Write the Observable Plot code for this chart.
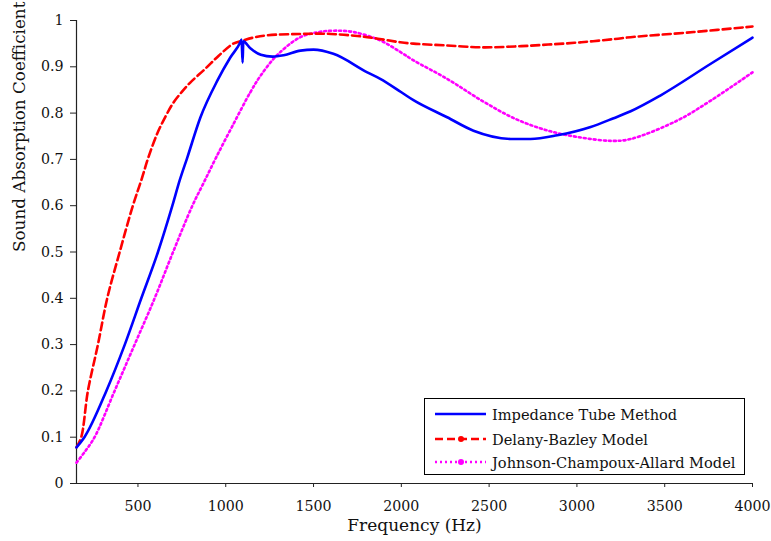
<!DOCTYPE html>
<html><head><meta charset="utf-8">
<script src="https://cdn.jsdelivr.net/npm/d3@7"></script>
<script src="https://cdn.jsdelivr.net/npm/@observablehq/plot@0.6"></script>
<style>
body{margin:0;background:#fff}
#chart{position:relative;width:771px;height:541px}
.legend{position:absolute;left:424px;top:398px;width:319px;height:75px;border:1.5px solid #000;background:#fff;font-family:"DejaVu Serif",serif;font-size:14.6px;color:#111}
.legend .row{position:absolute;left:0;height:20px;display:flex;align-items:center}
.legend svg{margin-left:10px;margin-right:6px}
</style>
</head><body><div id="chart"></div>
<script>
const xTicks = [500,1000,1500,2000,2500,3000,3500,4000];
const yTicks = [0,0.1,0.2,0.3,0.4,0.5,0.6,0.7,0.8,0.9,1];
const seriesNames = ["Impedance Tube Method","Delany-Bazley Model","Johnson-Champoux-Allard Model"];
const xLabel = "Frequency (Hz)";
const yLabel = "Sound Absorption Coefficient";

const impedanceFreq  = [150,195,320,425,519,614,696,738,781,855,952,1026,1083,1090,1096,1100,1140,1200,1266,1330,1426,1500,1613,1806,1880,2000,2069,2261,2411,2640,2736,2888,3078,3209,3306,3475,3760,4000];
const impedanceAlpha = [0.078,0.1,0.2,0.3,0.4,0.5,0.6,0.655,0.704,0.79,0.87,0.92,0.953,0.959,0.909,0.955,0.94,0.926,0.922,0.925,0.935,0.937,0.928,0.888,0.874,0.845,0.828,0.791,0.762,0.744,0.744,0.752,0.77,0.789,0.804,0.838,0.906,0.963];

const delanyFreq  = [150,177,215,272,325,396,471,519,560,610,656,701,750,798,884,960,1043,1100,1157,1236,1425,1600,1806,1994,2069,2261,2458,2647,2836,3026,3216,3306,3665,4000];
const delanyAlpha = [0.078,0.1,0.2,0.3,0.4,0.5,0.6,0.655,0.705,0.756,0.792,0.822,0.846,0.866,0.896,0.924,0.95,0.957,0.963,0.968,0.971,0.971,0.964,0.953,0.95,0.946,0.942,0.944,0.948,0.953,0.96,0.964,0.975,0.987];

const jcaFreq  = [150,200,253,367,481,595,700,810,875,945,1035,1140,1197,1292,1425,1530,1615,1729,1880,1994,2069,2261,2458,2647,2836,3026,3200,3306,3572,3762,4000];
const jcaAlpha = [0.045,0.07,0.1,0.2,0.3,0.4,0.5,0.6,0.65,0.704,0.77,0.845,0.88,0.925,0.964,0.975,0.978,0.975,0.957,0.932,0.914,0.874,0.827,0.788,0.762,0.747,0.74,0.744,0.784,0.827,0.888];

const toRows = (fs, as) => fs.map((f, i) => ({f, a: as[i]}));
const impedance = toRows(impedanceFreq, impedanceAlpha);
const delany = toRows(delanyFreq, delanyAlpha);
const jca = toRows(jcaFreq, jcaAlpha);

const serif = '"DejaVu Serif", serif';
const fmtY = d => d === 0 ? "0" : d === 1 ? "1" : d.toFixed(1);

const chart = Plot.plot({
  width: 771, height: 541,
  marginLeft: 76, marginRight: 19, marginTop: 20, marginBottom: 58,
  x: {domain: [150, 4000]},
  y: {domain: [0, 1]},
  style: {fontFamily: serif, fontSize: "14.2px", color: "#111", background: "#fff"},
  marks: [
    Plot.axisY({ticks: yTicks, tickSize: 6, tickPadding: 7, tickFormat: fmtY, label: null, stroke: "#222"}),
    Plot.axisX({ticks: xTicks, tickSize: 4, tickPadding: 13, tickFormat: d => String(d), label: null, stroke: "#222"}),
    Plot.ruleX([150], {stroke: "#222", strokeWidth: 1.2}),
    Plot.ruleY([0], {stroke: "#222", strokeWidth: 1.2}),
    Plot.line(jca, {x: "f", y: "a", stroke: "#ff00ff", strokeWidth: 2.6, strokeDasharray: "2,3", curve: "catmull-rom"}),
    Plot.line(delany, {x: "f", y: "a", stroke: "#ff0000", strokeWidth: 2.6, strokeDasharray: "8,4", curve: "catmull-rom"}),
    Plot.line(impedance, {x: "f", y: "a", stroke: "#0000ff", strokeWidth: 2.6, curve: "monotone-x"}),
    Plot.text([yLabel], {text: d => d, frameAnchor: "left", rotate: -90, dx: -57, fontSize: 16.8, fill: "#111"}),
    Plot.text([xLabel], {text: d => d, frameAnchor: "bottom", dy: 47, fontSize: 17, fill: "#111"})
  ]
});
const root = document.getElementById("chart");
root.appendChild(chart);

const styles = [
  {color: "#0000ff", dash: "", dot: false},
  {color: "#ff0000", dash: "8,4", dot: true},
  {color: "#ff00ff", dash: "2,3", dot: true}
];
const legend = document.createElement("div");
legend.className = "legend";
const rowTops = [5, 30, 53];
seriesNames.forEach((name, i) => {
  const s = styles[i];
  const row = document.createElement("div");
  row.className = "row";
  row.style.top = rowTops[i] + "px";
  row.innerHTML = `<svg width="51" height="10"><line x1="0" x2="51" y1="5" y2="5" stroke="${s.color}" stroke-width="2.6" ${s.dash ? `stroke-dasharray="${s.dash}"` : ""}/>${s.dot ? `<circle cx="26" cy="5" r="3" fill="${s.color}"/>` : ""}</svg><span>${name}</span>`;
  legend.appendChild(row);
});
root.appendChild(legend);
</script>
</body></html>
